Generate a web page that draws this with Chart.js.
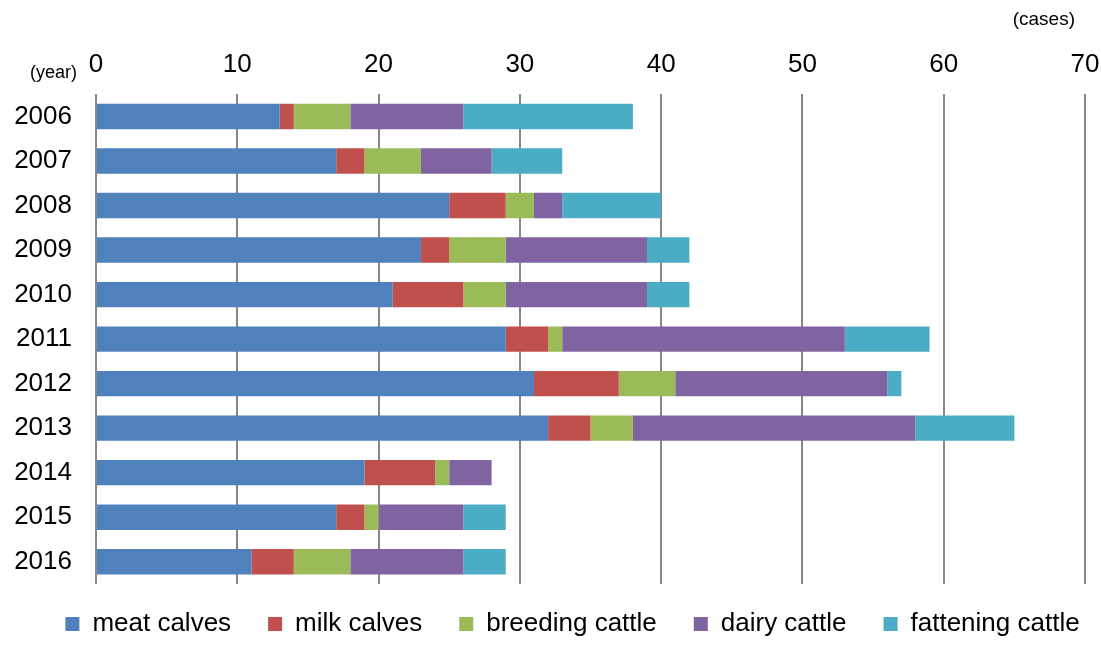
<!DOCTYPE html>
<html>
<head>
<meta charset="utf-8">
<script src="https://cdn.jsdelivr.net/npm/chart.js@4"></script>
<style>
  body { margin: 0; background: #fff; }
  #wrap { width: 1101px; height: 646px; }
</style>
</head>
<body>
<div id="wrap"><canvas id="myChart"></canvas></div>
<script>
// cases per year, by cattle type
var years = ['2006', '2007', '2008', '2009', '2010', '2011', '2012', '2013', '2014', '2015', '2016'];
var meatCalves     = [13, 17, 25, 23, 21, 29, 31, 32, 19, 17, 11];
var milkCalves     = [1, 2, 4, 2, 5, 3, 6, 3, 5, 2, 3];
var breedingCattle = [4, 4, 2, 4, 3, 1, 4, 3, 1, 1, 4];
var dairyCattle    = [8, 5, 2, 10, 10, 20, 15, 20, 3, 6, 8];
var fatteningCattle = [12, 5, 7, 3, 3, 6, 1, 7, 0, 3, 3];
var xTicks = [0, 10, 20, 30, 40, 50, 60, 70];

Chart.defaults.font.family = 'Arial, "Liberation Sans", sans-serif';
Chart.defaults.color = '#000';

// unit captions: "(year)" over the category labels, "(cases)" over the value axis
var unitCaptions = {
    id: 'unitCaptions',
    afterDraw: function (chart) {
        var c = chart.ctx;
        var area = chart.chartArea;
        c.save();
        c.fillStyle = '#000';
        c.textAlign = 'right';
        c.textBaseline = 'middle';
        c.font = '18px Arial, "Liberation Sans", sans-serif';
        c.fillText('(year)', area.left - 19, area.top - 21);
        c.font = '19px Arial, "Liberation Sans", sans-serif';
        c.fillText('(cases)', area.right - 10, area.top - 74);
        c.restore();
    }
};

// move the legend row right and up a little
var legendShift = {
    id: 'legendShift',
    afterLayout: function (chart) {
        var lg = chart.legend;
        lg.left += 22;
        lg.right += 22;
        lg.top -= 10;
        lg.bottom -= 10;
    }
};

var ctx = document.getElementById('myChart').getContext('2d');
var myChart = new Chart(ctx, {
    type: 'bar',
    data: {
        labels: years,
        datasets: [
            { label: 'meat calves', data: meatCalves, backgroundColor: '#4F81BD' },
            { label: 'milk calves', data: milkCalves, backgroundColor: '#C0504D' },
            { label: 'breeding cattle', data: breedingCattle, backgroundColor: '#9BBB59' },
            { label: 'dairy cattle', data: dairyCattle, backgroundColor: '#8064A2' },
            { label: 'fattening cattle', data: fatteningCattle, backgroundColor: '#4BACC6' }
        ]
    },
    options: {
        indexAxis: 'y',
        responsive: true,
        maintainAspectRatio: false,
        animation: false,
        datasets: {
            bar: { barPercentage: 0.57, categoryPercentage: 1.0 }
        },
        layout: {
            padding: { left: 0, right: 0, top: 35, bottom: -11 }
        },
        scales: {
            x: {
                position: 'top',
                stacked: true,
                min: 0,
                max: 70,
                afterBuildTicks: function (axis) {
                    axis.ticks = xTicks.map(function (v) { return { value: v }; });
                },
                afterFit: function (axis) {
                    axis.paddingLeft = 0;
                    axis.paddingRight = 16;
                },
                grid: { color: '#868686', lineWidth: 2, drawTicks: false },
                border: { display: false },
                ticks: { font: { size: 26 }, padding: 14 }
            },
            y: {
                stacked: true,
                afterFit: function (axis) { axis.width = 96; },
                grid: { display: false, drawTicks: false },
                border: { display: false },
                ticks: { font: { size: 26 }, padding: 24 }
            }
        },
        plugins: {
            legend: {
                position: 'bottom',
                labels: {
                    font: { size: 26 },
                    boxWidth: 14,
                    boxHeight: 14,
                    padding: 37
                }
            },
            tooltip: { enabled: false }
        }
    },
    plugins: [unitCaptions, legendShift]
});
</script>
</body>
</html>
